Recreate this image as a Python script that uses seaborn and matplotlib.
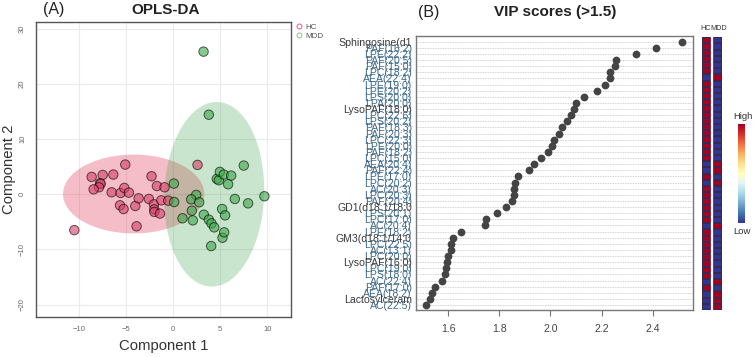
import numpy as np
import pandas as pd
import matplotlib
matplotlib.use("Agg")
import matplotlib.pyplot as plt
from matplotlib.patches import Ellipse
from matplotlib.lines import Line2D
import seaborn as sns

# ---------------- data ----------------
hc_x = [-10.5, -8.66, -7.49, -6.36, -7.77, -7.70, -7.88, -8.45, -6.54, -5.58, -5.19, -4.70, -5.09,
        -2.30, -1.73, -0.92, -5.65, -5.27, -4.03, -3.67, -2.58, -2.05, -2.01, -2.00, -1.41, -1.27,
        -0.53, -3.89, 2.58]
hc_y = [-6.5, 3.15, 3.5, 3.58, 2.0, 1.88, 1.27, 0.9, 0.36, 0.24, 1.15, 0.3, 5.39,
        3.27, 1.5, 1.27, -2.0, -2.67, -2.12, -0.73, -0.85, -1.82, -2.73, -3.2, -3.5, -1.1,
        -1.15, -5.8, 5.33]
mdd_x = [3.22, 3.78, 7.49, 0.07, 0.10, 2.44, 1.91, 2.76, 1.98, 0.99, 2.08, 3.25, 3.78, 4.06, 4.35,
         4.03, 5.23, 5.41, 5.19, 5.51, 4.63, 4.84, 4.95, 5.37, 6.15, 5.83, 6.54, 7.95, 9.68]
mdd_y = [25.87, 14.43, 5.21, 1.94, -1.4, -0.12, -0.91, -1.45, -2.97, -4.36, -4.73, -3.7, -4.6, -5.27,
         -6.0, -9.39, -7.88, -6.9, -2.67, -3.82, 2.79, 2.55, 4.06, 3.58, 3.39, 1.82, -0.85, -1.64, -0.36]
groups = ["HC", "MDD"]

# confidence ellipses: (center x, center y, width, height, angle)
ell_hc = (-4.2, 0.05, 15.0, 14.3, 0.0)
ell_mdd = (4.35, 0.0, 10.6, 33.5, -1.0)

features = ["Sphingosine(d1", "PAF(16:2)", "LPE(22:2)", "PAF(20:5)", "PAF(15:0)", "LPC(18:2)",
            "AEA(22:4)", "LPE(19:0)", "LPE(20:2)", "LPS(20:0)", "LPA(20:0)", "LysoPAF(18:0)",
            "LPC(22:6)", "LPS(20:2)", "PAF(18:3)", "PAF(20:3)", "LPC(22:3)", "LPE(20:0)",
            "PAF(18:2)", "LPC(15:0)", "AEA(20:4)", "PAF(22:4)", "LPE(17:0)", "LPC(20:2)",
            "AC(20:3)", "LPC(20:3)", "PAF(20:4)", "GD1(d18:1/18:0", "LPS(20:1)", "LPC(17:0)",
            "AC(20:4)", "LPE(18:2)", "GM3(d18:1/14:0", "LPC(22:5)", "AC(13:1)", "LPC(20:0)",
            "LysoPAF(16:0)", "LPC(19:0)", "LPS(18:0)", "AC(22:4)", "PAF(17:0)", "AEA(18:2)",
            "Lactosylceram", "AC(22:5)"]
vip = [2.513, 2.412, 2.334, 2.255, 2.254, 2.234, 2.232, 2.215, 2.183, 2.130, 2.100, 2.093,
       2.080, 2.066, 2.045, 2.032, 2.013, 2.006, 1.992, 1.963, 1.935, 1.916, 1.873, 1.862,
       1.858, 1.857, 1.849, 1.825, 1.793, 1.747, 1.743, 1.652, 1.620, 1.612, 1.610, 1.600,
       1.596, 1.592, 1.588, 1.578, 1.549, 1.539, 1.529, 1.514]
# relative level (1 = high, 0 = low)
hc_level = [1, 1, 1, 1, 1, 1, 0, 1, 1, 1, 1, 1, 1, 1, 1, 1, 1, 1, 1, 1, 0, 0,
            1, 0, 1, 1, 1, 1, 1, 1, 0, 1, 1, 1, 1, 1, 1, 1, 1, 0, 1, 0, 0, 0]
mdd_level = [1 - v for v in hc_level]
vip_ticks = [1.6, 1.8, 2.0, 2.2, 2.4]

# ---------------- style ----------------
sns.set_theme(style="white")
plt.rcParams["font.family"] = ["Liberation Sans", "DejaVu Sans"]
narrow = ["Liberation Sans Narrow", "Liberation Sans", "DejaVu Sans"]

fig = plt.figure(figsize=(7.53, 3.57), dpi=100)

# ================= Panel A =================
axA = fig.add_axes([0.0474, 0.1129, 0.339, 0.8263])
for (cx, cy, w, h, a), col, al in [(ell_hc, "#DC143C", 0.28), (ell_mdd, "#2E9B3A", 0.25)]:
    axA.add_patch(Ellipse((cx, cy), w, h, angle=a, facecolor=col, alpha=al,
                          edgecolor="none", zorder=1))

dfA = pd.DataFrame({
    "c1": hc_x + mdd_x,
    "c2": hc_y + mdd_y,
    "grp": ["HC"] * len(hc_x) + ["MDD"] * len(mdd_x),
})
sns.scatterplot(data=dfA, x="c1", y="c2", hue="grp", hue_order=groups,
                palette={"HC": "#D9436B", "MDD": "#3DAA4A"}, s=46, alpha=0.62,
                edgecolor="black", linewidth=0.7, legend=False, ax=axA, zorder=3)
axA.set_xlim(-14.6, 12.5)
axA.set_ylim(-22.2, 31.3)
axA.set_xticks([-10, -5, 0, 5, 10])
axA.set_yticks([-20, -10, 0, 10, 20, 30])
axA.grid(True, color="#EBEBEB", linewidth=0.8, zorder=0)
axA.set_axisbelow(True)
axA.tick_params(axis="both", labelsize=5.5, labelcolor="#666666", length=0, pad=7)
for lab in axA.get_yticklabels():
    lab.set_rotation(90)
    lab.set_va("center")
for sp in axA.spines.values():
    sp.set_color("#555555")
    sp.set_linewidth(1.0)
axA.set_xlabel("Component 1", fontsize=10.7, color="#333333", labelpad=4)
axA.set_ylabel("Component 2", fontsize=10.7, color="#333333", labelpad=2)

leg_handles = [Line2D([], [], marker="o", linestyle="none", markerfacecolor="none",
                      markeredgecolor="#E0708F", markersize=3.5, markeredgewidth=0.8, label="HC"),
               Line2D([], [], marker="o", linestyle="none", markerfacecolor="none",
                      markeredgecolor="#8FCC98", markersize=3.5, markeredgewidth=0.8, label="MDD")]
fig.legend(handles=leg_handles, loc="upper left", bbox_to_anchor=(0.392, 0.935),
           frameon=False, fontsize=5.8, handletextpad=0.3, labelspacing=0.15,
           handlelength=1.0, borderaxespad=0, borderpad=0, labelcolor="#555555")

fig.text(0.0567, 0.972, "(A)", fontsize=11.5, ha="left", va="center", color="#222222")
fig.text(0.2198, 0.972, "OPLS-DA", fontsize=11, fontweight="bold", ha="center", va="center",
         color="#222222")

# ================= Panel B =================
axB = fig.add_axes([0.5525, 0.1317, 0.3679, 0.7675])
dfB = pd.DataFrame({"feature": features, "vip": vip})
sns.stripplot(data=dfB, x="vip", y="feature", order=features, orient="h", jitter=False,
              color="#444444", size=5.6, linewidth=0, ax=axB, zorder=3)
axB.set_xlim(1.475, 2.557)
axB.set_ylim(len(features) - 0.2, -0.93)
axB.set_xticks(vip_ticks)
axB.set_xticklabels([f"{t:.1f}" for t in vip_ticks])
for i in range(len(features)):
    axB.axhline(i, color="#C4C4C4", linestyle=(0, (1, 1)), linewidth=0.6, zorder=1)
axB.tick_params(axis="x", labelsize=7.6, labelcolor="#444444", length=4, width=0.8,
                color="#777777", pad=6, bottom=True)
axB.tick_params(axis="y", length=0, pad=3)
for lab in axB.get_yticklabels():
    txt = lab.get_text()
    lab.set_fontfamily(narrow)
    lab.set_fontsize(7.6)
    lab.set_color("#3a3a3a" if len(txt) > 10 else "#3F6A8C")
for sp in axB.spines.values():
    sp.set_color("#777777")
    sp.set_linewidth(1.0)
axB.set_xlabel("")
axB.set_ylabel("")

fig.text(0.555, 0.966, "(B)", fontsize=11.5, ha="left", va="center", color="#222222")
fig.text(0.737, 0.966, "VIP scores (>1.5)", fontsize=11, fontweight="bold", ha="center",
         va="center", color="#222222")

# ---------------- heatmap strip ----------------
axH = fig.add_axes([0.9323, 0.1317, 0.0266, 0.7639])
axC = fig.add_axes([0.980, 0.3754, 0.0093, 0.2773])
dfH = pd.DataFrame({"HC": hc_level, "MDD": mdd_level}, index=features)
sns.heatmap(dfH, ax=axH, cmap="RdYlBu_r", vmin=0, vmax=1, cbar_ax=axC,
            linewidths=0.3, linecolor="#3a2a4a", xticklabels=False, yticklabels=False)
axH.axvline(1, color="white", linewidth=1.6)
axH.set_ylabel("")
axH.set_xlabel("")
axH.tick_params(length=0)
fig.text(705.5 / 753, 1 - 29 / 357, groups[0], fontsize=5.2, family=narrow, ha="center",
         va="center", color="#333333")
fig.text(719 / 753, 1 - 29 / 357, groups[1], fontsize=5.2, family=narrow, ha="center",
         va="center", color="#333333")
axC.set_yticks([])
axC.tick_params(length=0)
for sp in axC.spines.values():
    sp.set_visible(False)
fig.text(0.987, 1 - 117 / 357, "High", fontsize=6.8, ha="center", va="center", color="#333333")
fig.text(0.985, 1 - 231 / 357, "Low", fontsize=6.8, ha="center", va="center", color="#333333")

fig.savefig("out.png", dpi=100)
